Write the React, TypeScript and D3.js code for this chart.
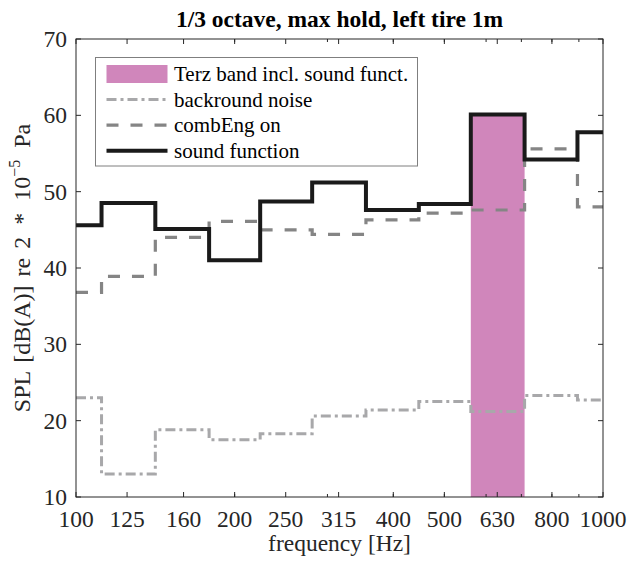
import * as d3 from 'd3';
import React, { useEffect, useRef } from 'react';

// 1/3 octave band centre frequencies and labels
const bandFreqs = [100, 125, 160, 200, 250, 315, 400, 500, 630, 800, 1000];
const bandLabels = ['100', '125', '160', '200', '250', '315', '400', '500', '630', '800', '1000'];

// max hold levels, dB(A)
const noiseLevels = [23.0, 13.0, 18.8, 17.5, 18.3, 20.6, 21.4, 22.5, 21.2, 23.3, 22.7];
const combEngLevels = [36.8, 38.9, 44.0, 46.1, 45.0, 44.4, 46.3, 47.2, 47.6, 55.6, 48.0];
const soundFnLevels = [45.6, 48.5, 45.1, 41.0, 48.7, 51.2, 47.6, 48.4, 60.1, 54.2, 57.8];

// highlighted Terz band
const terzFreq = 630;
const terzLevel = 60.1;

const yTicks = [10, 20, 30, 40, 50, 60, 70];
const minorTicks = [200, 300, 400, 500, 600, 700, 800, 900];

const legendItems = [
    { label: 'Terz band incl. sound funct.', kind: 'patch' },
    { label: 'backround noise', kind: 'noise' },
    { label: 'combEng on', kind: 'comb' },
    { label: 'sound function', kind: 'sound' },
];

const App: React.FC = () => {
    const svgRef = useRef<SVGSVGElement>(null);

    useEffect(() => {
        if (!svgRef.current) return;
        const svg = d3.select(svgRef.current);
        svg.selectAll('*').remove();

        const left = 76, right = 603, top = 39, bottom = 497;
        const axisColor = '#262626';
        const font = 'Liberation Serif, Times New Roman, serif';
        const axisFont = 23.5;

        const x = d3.scaleLog().domain([100, 1000]).range([left, right]);
        const y = d3.scaleLinear().domain([10, 70]).range([bottom, top]);

        const styles: Record<string, { color: string; width: number; dash: string }> = {
            noise: { color: '#a8a8aa', width: 3, dash: '10,4,3,4' },
            comb: { color: '#858585', width: 3.2, dash: '12,12' },
            sound: { color: '#1a1a1a', width: 4, dash: '' },
        };

        svg.append('rect').attr('width', 630).attr('height', 564).attr('fill', '#fff');

        // Terz band patch
        const idx = bandFreqs.indexOf(terzFreq);
        const lo = Math.sqrt(bandFreqs[idx - 1] * bandFreqs[idx]);
        const hi = Math.sqrt(bandFreqs[idx] * bandFreqs[idx + 1]);
        svg.append('rect')
            .attr('x', x(lo))
            .attr('y', y(terzLevel))
            .attr('width', x(hi) - x(lo))
            .attr('height', y(10) - y(terzLevel))
            .attr('fill', '#d086bb');

        const line = d3.line<number>()
            .x((_, i) => x(bandFreqs[i]))
            .y((d) => y(d))
            .curve(d3.curveStep);

        const series: [number[], string][] = [
            [noiseLevels, 'noise'],
            [combEngLevels, 'comb'],
            [soundFnLevels, 'sound'],
        ];
        series.forEach(([vals, kind]) => {
            const s = styles[kind];
            svg.append('path')
                .attr('d', line(vals) || '')
                .attr('fill', 'none')
                .attr('stroke', s.color)
                .attr('stroke-width', s.width)
                .attr('stroke-dasharray', s.dash || null)
                .attr('stroke-linejoin', 'miter');
        });

        // Axes box
        svg.append('rect')
            .attr('x', left).attr('y', top)
            .attr('width', right - left).attr('height', bottom - top)
            .attr('fill', 'none').attr('stroke', axisColor).attr('stroke-width', 1);

        // X ticks (major at labels, minor log ticks)
        bandFreqs.forEach((f, i) => {
            const xp = x(f);
            svg.append('line').attr('x1', xp).attr('x2', xp).attr('y1', bottom).attr('y2', bottom - 5)
                .attr('stroke', axisColor);
            svg.append('line').attr('x1', xp).attr('x2', xp).attr('y1', top).attr('y2', top + 5)
                .attr('stroke', axisColor);
            svg.append('text')
                .attr('x', xp).attr('y', 527)
                .attr('text-anchor', 'middle')
                .attr('font-family', font).attr('font-size', axisFont)
                .attr('fill', axisColor)
                .text(bandLabels[i]);
        });
        minorTicks.forEach((f) => {
            const xp = x(f);
            svg.append('line').attr('x1', xp).attr('x2', xp).attr('y1', bottom).attr('y2', bottom - 3)
                .attr('stroke', axisColor);
            svg.append('line').attr('x1', xp).attr('x2', xp).attr('y1', top).attr('y2', top + 3)
                .attr('stroke', axisColor);
        });

        // Y ticks
        yTicks.forEach((t) => {
            const yp = y(t);
            svg.append('line').attr('x1', left).attr('x2', left + 5).attr('y1', yp).attr('y2', yp)
                .attr('stroke', axisColor);
            svg.append('line').attr('x1', right).attr('x2', right - 5).attr('y1', yp).attr('y2', yp)
                .attr('stroke', axisColor);
            svg.append('text')
                .attr('x', 67).attr('y', yp)
                .attr('dy', '0.34em')
                .attr('text-anchor', 'end')
                .attr('font-family', font).attr('font-size', axisFont)
                .attr('fill', axisColor)
                .text(t);
        });

        // Title and labels
        svg.append('text')
            .attr('x', (left + right) / 2).attr('y', 27)
            .attr('text-anchor', 'middle')
            .attr('font-family', font).attr('font-size', axisFont).attr('font-weight', 'bold')
            .attr('fill', '#000')
            .text('1/3 octave, max hold, left tire 1m');

        svg.append('text')
            .attr('x', (left + right) / 2).attr('y', 551)
            .attr('text-anchor', 'middle')
            .attr('font-family', font).attr('font-size', axisFont)
            .attr('fill', axisColor)
            .text('frequency [Hz]');

        const yl = svg.append('text')
            .attr('transform', `translate(30, ${(top + bottom) / 2}) rotate(-90)`)
            .attr('text-anchor', 'middle')
            .attr('font-family', font).attr('font-size', 24)
            .attr('word-spacing', 3)
            .attr('fill', axisColor);
        yl.append('tspan').text('SPL [dB(A)] re 2\u2002*\u200210');
        yl.append('tspan').attr('font-size', 16).attr('dy', -10).text('\u22125');
        yl.append('tspan').attr('dy', 10).text('\u2002Pa');

        // Legend
        const lg = svg.append('g');
        lg.append('rect')
            .attr('x', 95.5).attr('y', 57.5).attr('width', 322).attr('height', 108.5)
            .attr('fill', '#fff').attr('stroke', '#7f7f7f').attr('stroke-width', 1);
        legendItems.forEach((item, i) => {
            const ry = 74 + i * 25.6;
            if (item.kind === 'patch') {
                lg.append('rect')
                    .attr('x', 106.5).attr('y', ry - 9).attr('width', 61).attr('height', 18)
                    .attr('fill', '#d086bb');
            } else {
                const s = styles[item.kind];
                lg.append('line')
                    .attr('x1', 106.5).attr('x2', 167.5).attr('y1', ry).attr('y2', ry)
                    .attr('stroke', s.color).attr('stroke-width', s.width)
                    .attr('stroke-dasharray', s.dash || null);
            }
            lg.append('text')
                .attr('x', 174).attr('y', ry)
                .attr('dy', '0.33em')
                .attr('font-family', font).attr('font-size', 21)
                .attr('fill', '#000')
                .text(item.label);
        });
    }, []);

    return (
        <svg ref={svgRef} width={630} height={564}
            style={{ position: 'absolute', left: 0, top: 0 }} />
    );
};

export default App;
